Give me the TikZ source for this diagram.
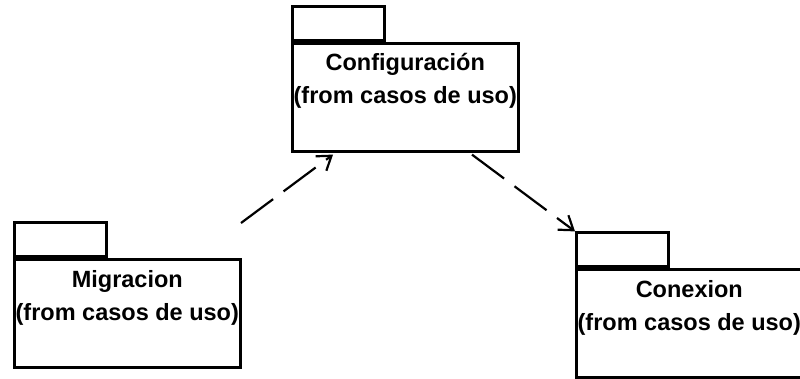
\documentclass[tikz,border=0pt]{standalone}
\usepackage{fontspec}
\setmainfont{Liberation Sans}
\usetikzlibrary{arrows.meta,calc}

\tikzset{
  pkg/.style={draw, line width=2.6pt, minimum width=226pt, minimum height=108pt,
    inner sep=0pt, anchor=north west},
  pkgtab/.style={draw, line width=2.6pt, minimum width=92pt, minimum height=34pt,
    inner sep=0pt, anchor=south west},
  pkglabel/.style={align=center, anchor=base, inner sep=0pt,
    font=\bfseries\fontsize{23.5}{33}\selectfont},
  dep/.style={line width=2.2pt, dash pattern=on 40pt off 13pt,
    -{Straight Barb[length=13pt,width=18pt,line width=2.2pt]}},
}

\begin{document}
\begin{tikzpicture}[x=1pt,y=-1pt]
\useasboundingbox (0,0) rectangle (800,378);
\clip (0,0) rectangle (800,378);

% package: Configuracion
\node[pkg] (config) at (291,42) {};
\node[pkgtab] (configtab) at (config.north west) {};
\node[pkglabel] (configlabel) at ($(config.north)+(0,-61pt)$)
  {Configuración\\(from casos de uso)};

% package: Migracion
\node[pkg] (migr) at (13,258) {};
\node[pkgtab] (migrtab) at (migr.north west) {};
\node[pkglabel] (migrlabel) at ($(migr.north)+(0,-62pt)$)
  {Migracion\\(from casos de uso)};

% package: Conexion
\node[pkg] (conn) at (575,268) {};
\node[pkgtab] (conntab) at (conn.north west) {};
\node[pkglabel] (connlabel) at ($(conn.north)+(0,-62pt)$)
  {Conexion\\(from casos de uso)};

% dependency end points
\coordinate (migrout) at (241,223);
\coordinate (cfgin) at ($(config.south west)+(42pt,-2pt)$);
\coordinate (cfgout) at ($(config.south west)+(181pt,-2pt)$);

% dependencies
\draw[dep] (migrout) -- (cfgin);
\draw[dep] (cfgout) -- (conntab.north west);
\end{tikzpicture}
\end{document}
